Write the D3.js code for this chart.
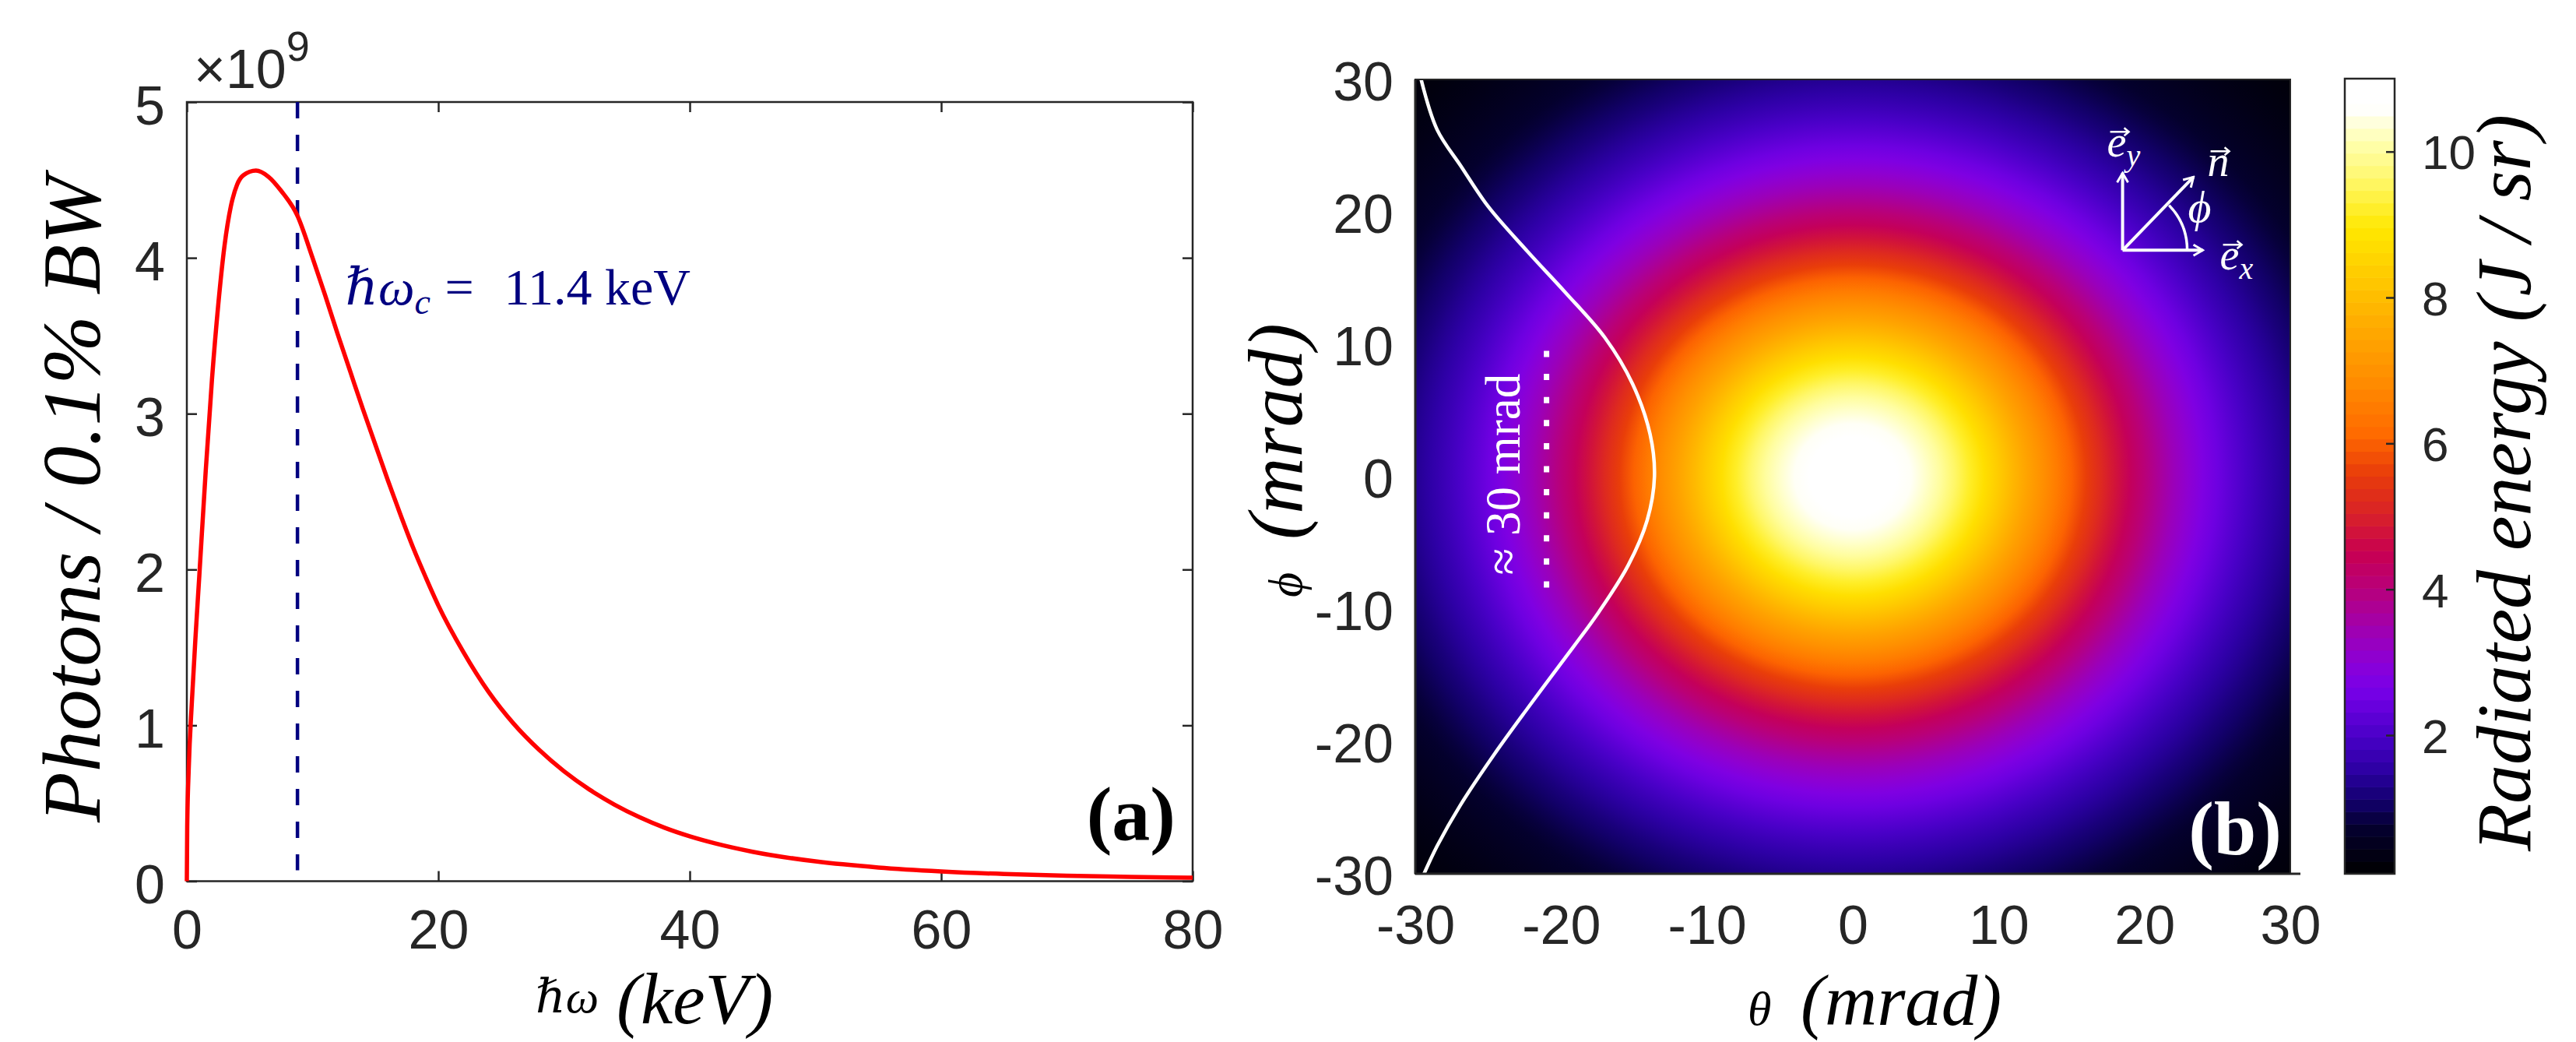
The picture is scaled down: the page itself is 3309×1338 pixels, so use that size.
<!DOCTYPE html>
<html><head><meta charset="utf-8">
<script src="https://cdn.jsdelivr.net/npm/d3@7"></script>
<style>
html,body{margin:0;padding:0;background:#fff;}
svg{display:block;}
</style></head><body>
<svg id="c" width="3309" height="1338"></svg>
<script>
// ---------------- data: panel (a) spectrum ----------------
const energyKeV  = [0, 0.03, 0.15, 0.4, 0.7, 1.0, 1.5, 2.0, 2.5, 3.0, 3.5, 4.0, 4.5, 5.5, 6.5, 7.5, 8.8, 10, 11, 12, 13, 14, 15, 16, 17, 18, 19, 20, 22, 24, 26, 28, 30, 32, 34, 36, 38, 40, 42, 45, 50, 55, 60, 65, 70, 75, 80];
const photons1e9 = [0, 0.35, 0.72, 1.15, 1.58, 1.97, 2.63, 3.22, 3.70, 4.08, 4.33, 4.47, 4.53, 4.56, 4.52, 4.43, 4.27, 4.00, 3.76, 3.51, 3.27, 3.03, 2.80, 2.57, 2.35, 2.14, 1.95, 1.77, 1.47, 1.215, 1.01, 0.844, 0.705, 0.589, 0.492, 0.411, 0.343, 0.288, 0.243, 0.189, 0.127, 0.088, 0.063, 0.046, 0.035, 0.028, 0.022];
const cutoffKeV = 8.8;
const xTicksA = [0, 20, 40, 60, 80];
const yTicksA = [0, 1, 2, 3, 4, 5];

// ---------------- data: panel (b) angular distribution ----------------
const radiusMrad = [0,1,2,3,4,5,6,7,8,9,10,11,12,13,14,15,16,17,18,19,20,21,22,23,24,25,26,27,28,29,30,31,32,33,34,35,36,37,38,39,40,41,42,43];
const energyJsr  = [11.0,10.97,10.9,10.75,10.55,10.3,10.0,9.6,9.2,8.75,8.3,7.85,7.4,6.95,6.5,6.05,5.6,5.2,4.8,4.4,4.05,3.7,3.35,3.05,2.75,2.48,2.22,1.98,1.76,1.56,1.38,1.22,1.07,0.94,0.82,0.71,0.62,0.53,0.46,0.40,0.34,0.29,0.25,0.21];
const lineoutPhi   = [30, 26.2, 23.5, 20.4, 17.0, 13.9, 10.5, 7.0, 3.2, 0, -3.3, -6.7, -10.2, -14.1, -17.5, -21.0, -24.8, -27.9, -30];
const lineoutTheta = [-29.6, -28.5, -26.9, -25.0, -22.3, -19.7, -17.0, -15.1, -13.9, -13.6, -14.1, -15.4, -17.4, -20.0, -22.3, -24.6, -26.9, -28.5, -29.4];
const widthMarkTheta = -21;
const widthMarkPhi = [9.5, -9.5];
const thetaTicks = [-30, -20, -10, 0, 10, 20, 30];
const phiTicks = [-30, -20, -10, 0, 10, 20, 30];
const cbarTicks = [2, 4, 6, 8, 10];
const cbarRange = [0.1, 11];

// colormap (style)
const cmapVals = [0.1, 0.75, 1.08, 1.49, 1.99, 2.62, 2.97, 3.46, 4.02, 4.52, 5.0, 5.57, 6.13, 6.84, 7.54, 8.24, 8.95, 9.65, 10.14, 10.6, 11];
const cmapCols = ["#000000","#040030","#12006a","#2a00a0","#4a00c8","#7800e8","#8a00d8","#a000b0","#b8007a","#c80050","#d8202a","#e83c0a","#ff6a00","#ff8c00","#ffa800","#ffc800","#ffe800","#fff870","#ffffb0","#ffffff","#ffffff"];
const cmap = d3.scaleLinear().domain(cmapVals).range(cmapCols).interpolate(d3.interpolateRgb).clamp(true);

const ink = "#262626";
const sans = "'Liberation Sans', Arial, Helvetica, sans-serif";
const serif = "'Liberation Serif', 'DejaVu Serif', 'Times New Roman', serif";
const fmt = d => String(d);
const svg = d3.select("#c");
const defs = svg.append("defs");

function styleAxis(g, size){
  g.select(".domain").remove();
  g.selectAll(".tick line").attr("stroke", ink).attr("stroke-width", 2.5);
  g.selectAll(".tick text").attr("fill", ink).style("font-family", sans).style("font-size", size + "px");
}

// =============== Panel (a) ===============
const xA = d3.scaleLinear([0, 80], [240, 1532]);
const yA = d3.scaleLinear([0, 5], [1131.5, 131]);
const gA = svg.append("g");

gA.append("g").attr("transform", `translate(0,${yA(0)})`)
  .call(d3.axisBottom(xA).tickValues(xTicksA).tickFormat(fmt).tickSize(-13).tickPadding(37))
  .call(g => styleAxis(g, 70));
gA.append("g").attr("transform", `translate(${xA(0)},0)`)
  .call(d3.axisLeft(yA).tickValues(yTicksA).tickFormat(fmt).tickSize(-13).tickPadding(28))
  .call(g => styleAxis(g, 70))
  .call(g => g.selectAll(".tick text").attr("dy", "0.4em"));
gA.append("g").attr("transform", `translate(0,${yA(5)})`)
  .call(d3.axisTop(xA).tickValues(xTicksA).tickSize(-13).tickFormat(""))
  .call(g => styleAxis(g, 70));
gA.append("g").attr("transform", `translate(${xA(80)},0)`)
  .call(d3.axisRight(yA).tickValues(yTicksA).tickSize(-13).tickFormat(""))
  .call(g => styleAxis(g, 70));
gA.append("rect").attr("x", xA(0)).attr("y", yA(5))
  .attr("width", xA(80) - xA(0)).attr("height", yA(0) - yA(5))
  .attr("fill", "none").attr("stroke", ink).attr("stroke-width", 2.5);

// cutoff dashed line
gA.append("line").attr("x1", xA(cutoffKeV)).attr("x2", xA(cutoffKeV))
  .attr("y1", yA(5)).attr("y2", yA(0.07))
  .attr("stroke", "#000080").attr("stroke-width", 4.5).attr("stroke-dasharray", "21 21");

// spectrum
const specData = energyKeV.map((e, i) => [e, photons1e9[i]]);
gA.append("path").datum(specData)
  .attr("d", d3.line().x(d => xA(d[0])).y(d => yA(d[1])).curve(d3.curveMonotoneX))
  .attr("fill", "none").attr("stroke", "#ff0000").attr("stroke-width", 5.5).attr("stroke-linejoin", "round");

// exponent
const expo = gA.append("text").attr("x", 249).attr("y", 113).attr("fill", ink)
  .style("font-family", sans).style("font-size", "70px");
expo.append("tspan").text("\u00d710");
expo.append("tspan").attr("dy", -35).style("font-size", "54px").text("9");

// annotation
const annX = xA(12.6), annY = yA(3.7);
const ann = gA.append("text").attr("x", annX).attr("y", annY).attr("fill", "#000080")
  .style("font-family", serif).style("font-size", "66px");
ann.append("tspan").style("font-style", "italic").text("\u210F\u03C9");
ann.append("tspan").attr("dy", 12).style("font-style", "italic").style("font-size", "46px").text("c");
ann.append("tspan").attr("x", annX + 128).attr("dy", -12).text("=");
ann.append("tspan").attr("x", annX + 204).text("11.4 keV");

// axis labels
const xlA = gA.append("text").attr("x", 688).attr("y", 1314).attr("fill", "#000")
  .style("font-family", serif).style("font-style", "italic").style("font-size", "93px");
xlA.append("tspan").attr("dy", -14).style("font-size", "60px").text("\u210F\u03C9");
xlA.append("tspan").attr("x", 792).attr("dy", 14).text("(keV)");
gA.append("text").attr("transform", "translate(128,1056) rotate(-90)").attr("fill", "#000")
  .style("font-family", serif).style("font-size", "106px").style("font-style", "italic").text("Photons / 0.1% BW");
gA.append("text").attr("x", 1510).attr("y", 1078).attr("text-anchor", "end").attr("fill", "#000")
  .style("font-family", serif).style("font-size", "98px").style("font-weight", "bold").text("(a)");

// =============== Panel (b) ===============
const tx = d3.scaleLinear([-30, 30], [1818, 2942]);
const py = d3.scaleLinear([-30, 30], [1122, 102]);
const gB = svg.append("g");
defs.append("clipPath").attr("id", "clipB").append("rect")
  .attr("x", tx(-30)).attr("y", py(30)).attr("width", tx(30) - tx(-30)).attr("height", py(-30) - py(30));

const rMax = d3.max(radiusMrad);
const grad = defs.append("radialGradient").attr("id", "rg").attr("cx", "50%").attr("cy", "50%").attr("r", "50%");
grad.selectAll("stop").data(radiusMrad.map((r, i) => [r, energyJsr[i]])).join("stop")
  .attr("offset", d => d[0] / rMax).attr("stop-color", d => cmap(d[1]));

const img = gB.append("g").attr("clip-path", "url(#clipB)");
img.append("rect").attr("x", tx(-30)).attr("y", py(30)).attr("width", tx(30) - tx(-30)).attr("height", py(-30) - py(30))
  .attr("fill", cmap(energyJsr[energyJsr.length - 1]));
img.append("ellipse").attr("cx", tx(0)).attr("cy", py(0))
  .attr("rx", tx(rMax) - tx(0)).attr("ry", py(0) - py(rMax)).attr("fill", "url(#rg)");

// lineout curve
const lineout = lineoutPhi.map((p, i) => [lineoutTheta[i], p]);
img.append("path").datum(lineout)
  .attr("d", d3.line().x(d => tx(d[0])).y(d => py(d[1])).curve(d3.curveCatmullRom))
  .attr("fill", "none").attr("stroke", "#fff").attr("stroke-width", 4.5);

// width marker
img.append("line").attr("x1", tx(widthMarkTheta)).attr("x2", tx(widthMarkTheta))
  .attr("y1", py(widthMarkPhi[0])).attr("y2", py(widthMarkPhi[1]))
  .attr("stroke", "#fff").attr("stroke-width", 7).attr("stroke-dasharray", "8 21.6");
img.append("text").attr("transform", `translate(${tx(widthMarkTheta) - 35},${py(0) - 3}) rotate(-90)`)
  .attr("text-anchor", "middle").attr("fill", "#fff")
  .style("font-family", serif).style("font-size", "63px").text("\u2248 30 mrad");

// frame
gB.append("rect").attr("x", tx(-30)).attr("y", py(30)).attr("width", tx(30) - tx(-30)).attr("height", py(-30) - py(30))
  .attr("fill", "none").attr("stroke", ink).attr("stroke-width", 2);
gB.append("line").attr("x1", tx(-30)).attr("x2", tx(30) + 13).attr("y1", py(-30)).attr("y2", py(-30))
  .attr("stroke", ink).attr("stroke-width", 3);
gB.append("line").attr("x1", tx(-30)).attr("x2", tx(-30)).attr("y1", py(30)).attr("y2", py(-30))
  .attr("stroke", ink).attr("stroke-width", 3);

// axes
gB.append("g").attr("transform", `translate(0,${py(-30)})`)
  .call(d3.axisBottom(tx).tickValues(thetaTicks).tickFormat(fmt).tickSize(0).tickPadding(40))
  .call(g => styleAxis(g, 70));
gB.append("g").attr("transform", `translate(${tx(-30)},0)`)
  .call(d3.axisLeft(py).tickValues(phiTicks).tickFormat(fmt).tickSize(0).tickPadding(28))
  .call(g => styleAxis(g, 70))
  .call(g => g.selectAll(".tick text").attr("dy", "0.38em"));

// axis labels
const xlB = gB.append("text").attr("x", 2245).attr("y", 1316).attr("fill", "#000")
  .style("font-family", serif).style("font-style", "italic").style("font-size", "93px");
xlB.append("tspan").style("font-size", "62px").text("\u03B8");
xlB.append("tspan").attr("x", 2313).text("(mrad)");
const ylB = gB.append("text").attr("transform", "translate(1672,767) rotate(-90)").attr("fill", "#000")
  .style("font-family", serif).style("font-style", "italic").style("font-size", "100px");
ylB.append("tspan").style("font-size", "62px").text("\u03D5");
ylB.append("tspan").attr("x", 74).text("(mrad)");
gB.append("text").attr("x", 2931).attr("y", 1097).attr("text-anchor", "end").attr("fill", "#fff")
  .style("font-family", serif).style("font-size", "98px").style("font-weight", "bold").text("(b)");

// inset: coordinate frame
const O = [tx(18.5), py(17.1)];
defs.append("marker").attr("id", "ah").attr("viewBox", "-14 -9 16 18")
  .attr("markerWidth", 16).attr("markerHeight", 18).attr("markerUnits", "userSpaceOnUse")
  .attr("refX", 0).attr("refY", 0).attr("orient", "auto")
  .append("path").attr("d", "M-12,-7 L0,0 L-12,7").attr("fill", "none").attr("stroke", "#fff").attr("stroke-width", 3);
const inset = gB.append("g");
[[0, -99], [103, 0], [91, -94]].forEach(v => {
  inset.append("line").attr("x1", O[0]).attr("y1", O[1]).attr("x2", O[0] + v[0]).attr("y2", O[1] + v[1])
    .attr("stroke", "#fff").attr("stroke-width", 4).attr("marker-end", "url(#ah)");
});
const ar = 83, ang = 44 * Math.PI / 180;
inset.append("path")
  .attr("d", `M${O[0] + ar},${O[1]} A${ar},${ar} 0 0 0 ${O[0] + ar * Math.cos(ang)},${O[1] - ar * Math.sin(ang)}`)
  .attr("fill", "none").attr("stroke", "#fff").attr("stroke-width", 3.5);
function vecLabel(x, y, base, sub){
  const t = inset.append("text").attr("x", x).attr("y", y).attr("fill", "#fff")
    .style("font-family", serif).style("font-size", "56px").style("font-style", "italic");
  t.append("tspan").text(base);
  if (sub) t.append("tspan").attr("dy", 12).style("font-size", "40px").text(sub);
  const ax = x + 4, ay = y - 32;
  inset.append("path").attr("d", `M${ax},${ay} L${ax + 24},${ay} M${ax + 18},${ay - 5} L${ax + 24},${ay} L${ax + 18},${ay + 5}`)
    .attr("fill", "none").attr("stroke", "#fff").attr("stroke-width", 2.5);
}
vecLabel(O[0] - 20, O[1] - 120, "e", "y");
vecLabel(O[0] + 109, O[1] - 95, "n", null);
vecLabel(O[0] + 125, O[1] + 25, "e", "x");
inset.append("text").attr("x", O[0] + 84).attr("y", O[1] - 36).attr("fill", "#fff")
  .style("font-family", serif).style("font-size", "58px").style("font-style", "italic").text("\u03D5");

// =============== Colorbar ===============
const cy = d3.scaleLinear(cbarRange, [1122, 101]);
const cbX = 3012, cbW = 64;
const nLev = 64, step = (cbarRange[1] - cbarRange[0]) / nLev;
const levels = d3.range(nLev).map(i => cbarRange[0] + i * step);
const gC = svg.append("g");
gC.selectAll("rect.lev").data(levels).join("rect").attr("class", "lev")
  .attr("x", cbX).attr("width", cbW)
  .attr("y", d => cy(d + step)).attr("height", d => cy(d) - cy(d + step) + 0.6)
  .attr("fill", d => cmap(d + step / 2));
gC.append("rect").attr("x", cbX).attr("y", cy(cbarRange[1])).attr("width", cbW).attr("height", cy(cbarRange[0]) - cy(cbarRange[1]))
  .attr("fill", "none").attr("stroke", ink).attr("stroke-width", 2.5);
gC.append("g").attr("transform", `translate(${cbX + cbW},0)`)
  .call(d3.axisRight(cy).tickValues(cbarTicks).tickFormat(fmt).tickSize(-11).tickPadding(35))
  .call(g => styleAxis(g, 62))
  .call(g => g.selectAll(".tick text").attr("dy", "0.36em"));
gC.append("text").attr("transform", "translate(3250,1093) rotate(-90)").attr("fill", "#000")
  .style("font-family", serif).style("font-size", "100px").style("font-style", "italic").text("Radiated energy (J / sr)");
</script>
</body></html>
